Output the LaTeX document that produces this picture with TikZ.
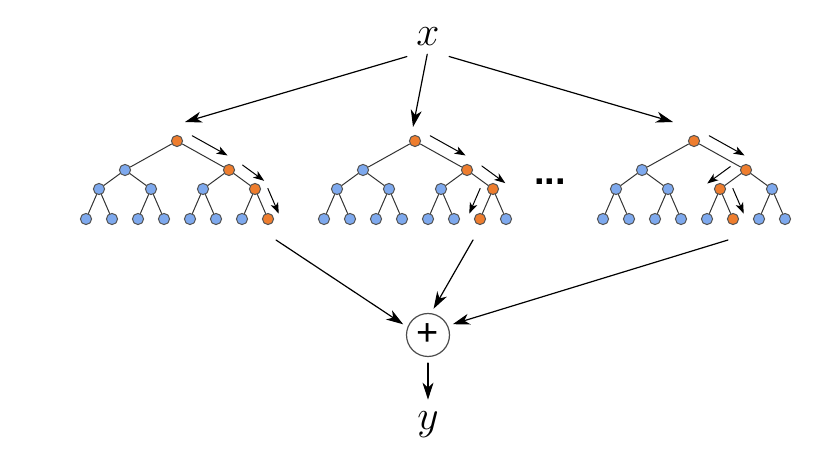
\documentclass[tikz,border=0pt]{standalone}
\usepackage{fontspec}
\newfontfamily\dotfont{Liberation Sans}
\usetikzlibrary{calc,arrows.meta}
\definecolor{coldc}{HTML}{7EA9EE}
\definecolor{hotc}{HTML}{EE7D2E}
\definecolor{rimc}{HTML}{555555}
\tikzset{
	treenode/.style={circle,draw=rimc,line width=0.5pt,minimum size=5.6pt,inner sep=0pt},
	branch/.style={draw=black!80,line width=0.5pt},
	guide/.style={->,line width=0.5pt,>={Stealth[length=5.5pt,width=4pt,inset=1.5pt]}},
	feed/.style={->,line width=0.6pt},
	letter/.style={font=\fontsize{21}{25}\selectfont,inner sep=2pt}
}
\begin{document}
\begin{tikzpicture}[x=0.5pt, y=-0.5pt, line join=round, line cap=round, >={Stealth[length=8.5pt,width=5.5pt,inset=2.5pt]}]
		\useasboundingbox (0,0) rectangle (826,454);
		% the three trees, hot nodes on the chosen path
		\foreach \t/\rx/\p/\q/\r in {a/177/3/7/15, b/415/3/7/14, c/694/3/6/13}
		\foreach \L/\ly in {0/141,1/170,2/189,3/219}{
			\pgfmathtruncatemacro\n{2^\L}
			\foreach \i in {1,...,\n}{
				\pgfmathtruncatemacro\k{\n+\i-1}
				\pgfmathsetmacro\xx{\rx+(\i-(\n+1)/2)*208/\n}
				\pgfmathparse{(\k==1||\k==\p||\k==\q||\k==\r) ? "hotc" : "coldc"}
				\let\col\pgfmathresult
				\node[treenode,fill=\col] (\t\k) at (\xx,\ly) {};
			}
		}
		\foreach \t in {a,b,c}
		\foreach \k in {2,...,15}{
			\pgfmathtruncatemacro\m{\k/2}
			\draw[branch] (\t\m) -- (\t\k);
		}
		% arrows along the path
		\foreach \a/\b/\s/\u/\v in {a1/a3/90/0.18/0.86, a3/a7/90/0.25/1.08, a7/a15/90/0.14/0.98,
			b1/b3/90/0.18/0.86, b3/b7/90/0.3/1.2, b7/b14/-90/0.14/0.98,
			c1/c3/90/0.18/0.86, c3/c6/-90/0.33/1.22, c6/c13/90/0.14/0.98}
		\draw[guide] ($(\a)!\u!(\b) + (\a)!6pt!\s:(\b) - (\a)$) -- ($(\a)!\v!(\b) + (\a)!6pt!\s:(\b) - (\a)$);
		\node[font={\dotfont\bfseries\fontsize{19}{22}\selectfont}] (dots) at (550,182) {...};
		% input, sum and output
		\node[letter] (x) at (428,37) {$x$};
		\path
		($(a1)+(8,-19)$) coordinate (a top)
		($(b1)+(-2,-14)$) coordinate (b top)
		($(c1)+(-21,-19)$) coordinate (c top);
		\foreach \c/\s in {a top/11pt,b top/2pt,c top/11pt}
		\draw[feed,shorten <=\s] (x.south) -- (\c);
		\node[circle,draw=black!70,line width=0.6pt,minimum size=21.5pt,inner sep=0pt,font={\dotfont\fontsize{19}{19}\selectfont}] (sum) at (428,335) {+};
		\foreach \f/\dx/\ang in {a15/8/159,b14/-7/82,c13/-5/25}
		\draw[feed,shorten >=2.5pt] ([shift={(\dx,21)}]\f.center) -- (sum.\ang);
		\node[letter] (y) at (428,425) {$y$};
		\draw[feed,shorten <=3pt,shorten >=4pt] (sum) -- (y);
\end{tikzpicture}
\end{document}
